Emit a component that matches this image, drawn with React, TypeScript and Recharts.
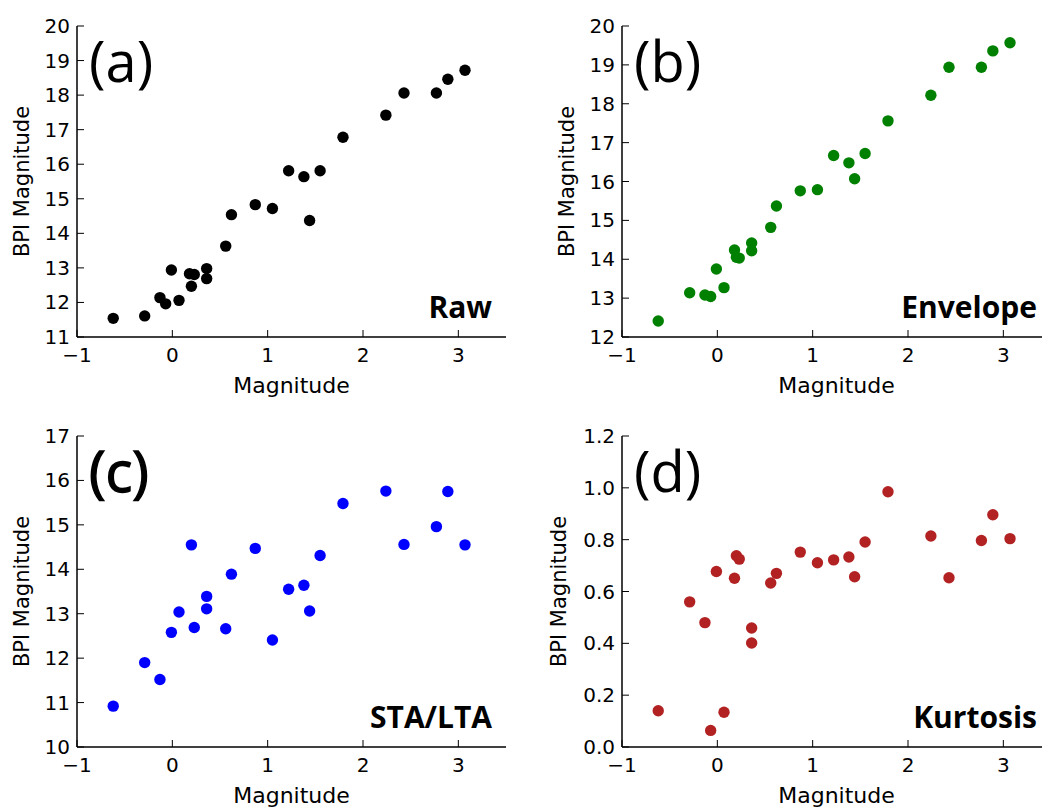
import { ScatterChart, Scatter, XAxis, YAxis } from 'recharts'

// event magnitudes (shared x values for all four panels)
const magnitude = [
  -0.62, -0.29, -0.13, -0.07, -0.01, 0.07, 0.18, 0.2, 0.23, 0.36, 0.36, 0.56, 0.62,
  0.87, 1.05, 1.22, 1.38, 1.44, 1.55, 1.79, 2.24, 2.43, 2.77, 2.89, 3.07,
]

const rawBpi = [
  11.54, 11.61, 12.14, 11.96, 12.94, 12.06, 12.83, 12.47, 12.81, 12.98, 12.69, 13.63, 14.54,
  14.83, 14.72, 15.81, 15.64, 14.37, 15.81, 16.78, 17.42, 18.06, 18.06, 18.46, 18.72,
]

const envelopeBpi = [
  12.41, 13.14, 13.08, 13.04, 13.75, 13.27, 14.24, 14.05, 14.03, 14.42, 14.22, 14.82, 15.37,
  15.76, 15.79, 16.67, 16.48, 16.07, 16.72, 17.56, 18.22, 18.94, 18.94, 19.36, 19.57,
]

// two events are not visible in the STA/LTA panel
const staLtaBpi = [
  10.92, 11.9, 11.52, null, 12.58, 13.04, null, 14.55, 12.69, 13.39, 13.11, 12.66, 13.89,
  14.47, 12.41, 13.55, 13.64, 13.06, 14.31, 15.48, 15.76, 14.56, 14.96, 15.75, 14.55,
]

const kurtosisBpi = [
  0.14, 0.56, 0.48, 0.064, 0.677, 0.134, 0.651, 0.738, 0.725, 0.459, 0.401, 0.633, 0.67,
  0.752, 0.711, 0.722, 0.733, 0.657, 0.791, 0.985, 0.814, 0.653, 0.797, 0.896, 0.804,
]

const magTicks = [-1, 0, 1, 2, 3]
const rawTicks = [11, 12, 13, 14, 15, 16, 17, 18, 19, 20]
const envelopeTicks = [12, 13, 14, 15, 16, 17, 18, 19, 20]
const staLtaTicks = [10, 11, 12, 13, 14, 15, 16, 17]
const kurtosisTicks = [0, 0.2, 0.4, 0.6, 0.8, 1.0, 1.2]

const PLOT_LEFT = 77
const PLOT_TOP = 20
const PLOT_W = 429
const PLOT_H = 311
const AXIS_H = 70
const RIGHT = 10
const CHART_W = PLOT_LEFT + PLOT_W + RIGHT
const CHART_H = PLOT_TOP + PLOT_H + AXIS_H
const TICK = 7
const FONT = "'DejaVu Sans', sans-serif"
const ANNOT_FONT = "'Open Sans', sans-serif"
const frame = { stroke: '#000', strokeWidth: 1.5 }

const fmtInt = (v: number) => String(v).replace('-', '\u2212')
const fmtOne = (v: number) => v.toFixed(1)

function BottomTick({ x, y, payload }: any) {
  return (
    <g>
      <line x1={x} x2={x} y1={y} y2={y - TICK} stroke="#000" />
      <text x={x} y={y + 25} textAnchor="middle" fontSize={20} fontFamily={FONT} fill="#000">
        {fmtInt(payload.value)}
      </text>
    </g>
  )
}

function TopTick({ x, y }: any) {
  return <line x1={x} x2={x} y1={y} y2={y + TICK} stroke="#000" />
}

function RightTick({ x, y }: any) {
  return <line x1={x} x2={x - TICK} y1={y} y2={y} stroke="#000" />
}

function makeLeftTick(fmt: (v: number) => string) {
  return function LeftTick({ x, y, payload }: any) {
    return (
      <g>
        <line x1={x} x2={x + TICK} y1={y} y2={y} stroke="#000" />
        <text x={x - 7} y={y + 7} textAnchor="end" fontSize={20} fontFamily={FONT} fill="#000">
          {fmt(payload.value)}
        </text>
      </g>
    )
  }
}

interface PanelProps {
  left: number
  top: number
  values: (number | null)[]
  color: string
  domain: [number, number]
  ticks: number[]
  fmt: (v: number) => string
  letter: string
  name: string
  ylabelOffset: number
  heavy?: boolean
}

function Panel({ left, top, values, color, domain, ticks, fmt, letter, name, ylabelOffset, heavy }: PanelProps) {
  const data = magnitude
    .map((x, i) => ({ x, y: values[i] }))
    .filter((d) => d.y !== null)
  const cy = PLOT_TOP + PLOT_H / 2
  const ylx = PLOT_LEFT - ylabelOffset

  return (
    <div style={{ position: 'absolute', left, top }}>
      <ScatterChart width={CHART_W} height={CHART_H} margin={{ top: PLOT_TOP, right: RIGHT, bottom: 0, left: 0 }}>
        <XAxis
          dataKey="x"
          type="number"
          domain={[-1, 3.5]}
          ticks={magTicks}
          interval={0}
          height={AXIS_H}
          tickLine={false}
          tickSize={0}
          tickMargin={0}
          axisLine={frame}
          tick={BottomTick}
        />
        <XAxis
          xAxisId="top"
          orientation="top"
          type="number"
          domain={[-1, 3.5]}
          ticks={magTicks}
          interval={0}
          height={0}
          tickLine={false}
          tickSize={0}
          tickMargin={0}
          axisLine={frame}
          tick={TopTick}
        />
        <YAxis
          dataKey="y"
          type="number"
          domain={domain}
          ticks={ticks}
          interval={0}
          width={PLOT_LEFT}
          tickLine={false}
          tickSize={0}
          tickMargin={0}
          axisLine={frame}
          tick={makeLeftTick(fmt)}
        />
        <YAxis
          yAxisId="right"
          orientation="right"
          type="number"
          domain={domain}
          ticks={ticks}
          interval={0}
          width={0}
          tickLine={false}
          tickSize={0}
          tickMargin={0}
          axisLine={frame}
          tick={RightTick}
        />
        <Scatter
          data={data}
          fill={color}
          isAnimationActive={false}
          shape={(p: any) => <circle cx={p.cx} cy={p.cy} r={5.7} fill={color} />}
        />
        <text
          x={ylx}
          y={cy}
          transform={`rotate(-90 ${ylx} ${cy})`}
          textAnchor="middle"
          dominantBaseline="central"
          fontSize={21}
          fontFamily={FONT}
          fill="#000"
        >
          BPI Magnitude
        </text>
        <text
          x={PLOT_LEFT + PLOT_W / 2}
          y={PLOT_TOP + PLOT_H + 56}
          textAnchor="middle"
          fontSize={22}
          fontFamily={FONT}
          fill="#000"
        >
          Magnitude
        </text>
        <text
          x={PLOT_LEFT + 12}
          y={PLOT_TOP + 56}
          fontSize={56}
          fontFamily={ANNOT_FONT}
          fill="#000"
          stroke={heavy ? '#000' : 'none'}
          strokeWidth={heavy ? 1.4 : 0}
        >
          ({letter})
        </text>
        <text
          x={PLOT_LEFT + PLOT_W - 14}
          y={PLOT_TOP + PLOT_H - 19}
          textAnchor="end"
          fontSize={30}
          fontWeight={700}
          fontFamily={ANNOT_FONT}
          fill="#000"
        >
          {name}
        </text>
      </ScatterChart>
    </div>
  )
}

export default function App() {
  return (
    <div
      style={{
        position: 'fixed',
        left: 0,
        top: 0,
        width: 1042,
        height: 808,
        overflow: 'hidden',
        background: '#fff',
      }}
    >
      <Panel left={0} top={5.7} values={rawBpi} color="#000000" domain={[11, 20]} ticks={rawTicks} fmt={fmtInt} letter="a" name="Raw" ylabelOffset={55} />
      <Panel left={544.7} top={5.7} values={envelopeBpi} color="#008000" domain={[12, 20]} ticks={envelopeTicks} fmt={fmtInt} letter="b" name="Envelope" ylabelOffset={55} />
      <Panel left={0} top={415.7} values={staLtaBpi} color="#0000ff" domain={[10, 17]} ticks={staLtaTicks} fmt={fmtInt} letter="c" name="STA/LTA" ylabelOffset={55} heavy />
      <Panel left={544.7} top={415.7} values={kurtosisBpi} color="#b22222" domain={[0, 1.2]} ticks={kurtosisTicks} fmt={fmtOne} letter="d" name="Kurtosis" ylabelOffset={63} />
    </div>
  )
}
